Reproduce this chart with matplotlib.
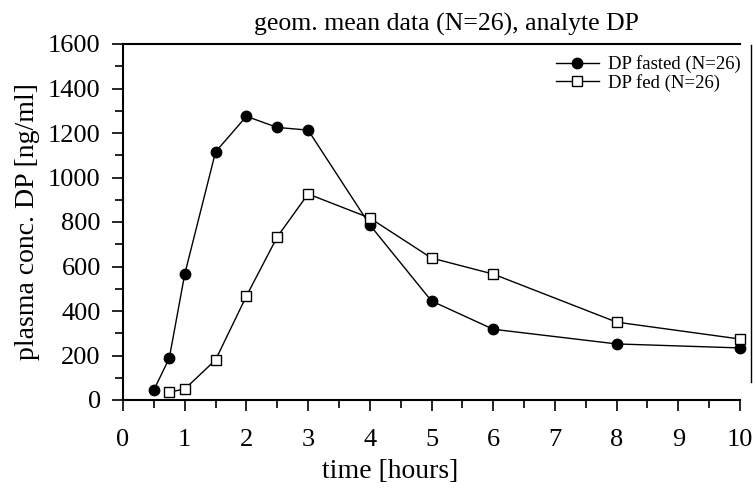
import matplotlib.pyplot as plt
from matplotlib.ticker import MultipleLocator
from matplotlib.lines import Line2D

plt.rcParams['font.family'] = ['Liberation Serif', 'DejaVu Serif']

# geometric mean plasma concentrations
t_fasted = [0.5, 0.75, 1, 1.5, 2, 2.5, 3, 4, 5, 6, 8, 10]
c_fasted = [45, 188, 565, 1115, 1275, 1225, 1213, 787, 445, 318, 252, 234]

t_fed = [0.75, 1, 1.5, 2, 2.5, 3, 4, 5, 6, 8, 10]
c_fed = [36, 49, 180, 467, 733, 926, 818, 638, 566, 350, 274]

fig = plt.figure(figsize=(7.53, 4.88), dpi=100)
ax = fig.add_axes([123 / 753, 1 - 400 / 488, (740 - 123) / 753, (400 - 44) / 488])

ax.plot(t_fasted, c_fasted, color='black', lw=1.0, marker='o', ms=7.5,
        mfc='black', mec='black', label='DP fasted (N=26)', clip_on=False, zorder=3)
ax.plot(t_fed, c_fed, color='black', lw=1.0, marker='s', ms=7,
        mfc='white', mec='black', mew=1.0, label='DP fed (N=26)', clip_on=False, zorder=3)

ax.set_xlim(0, 10)
ax.set_ylim(0, 1600)
ax.xaxis.set_major_locator(MultipleLocator(1))
ax.xaxis.set_minor_locator(MultipleLocator(0.5))
ax.yaxis.set_major_locator(MultipleLocator(200))
ax.yaxis.set_minor_locator(MultipleLocator(100))
ax.tick_params(which='both', direction='out', width=1.2, labelsize=19, top=False, right=False)
ax.tick_params(which='major', length=8)
ax.tick_params(which='minor', length=6)
ax.tick_params(axis='x', pad=13)
ax.tick_params(axis='y', pad=8)

ax.spines['right'].set_visible(False)
for s in ['left', 'bottom', 'top']:
    ax.spines[s].set_linewidth(1.5)

ax.set_title('geom. mean data (N=26), analyte DP', fontsize=18.5, pad=10,
             x=(446 - 123) / 617)
ax.set_xlabel('time [hours]', fontsize=20)
ax.xaxis.set_label_coords((390 - 123) / 617, -0.165)
ax.set_ylabel('plasma conc. DP [ng/ml]', fontsize=20, labelpad=6)

ax.legend(loc='upper right', frameon=False, fontsize=13.5, handlelength=2.3,
          handletextpad=0.5, labelspacing=0.05, borderaxespad=0.2,
          bbox_to_anchor=(1.02, 1.0))

# scan edge line at the far right
fig.add_artist(Line2D([751 / 753, 751 / 753], [1 - 45 / 488, 1 - 382 / 488],
                      color='black', lw=1.0))

fig.savefig('out.png', dpi=100)
